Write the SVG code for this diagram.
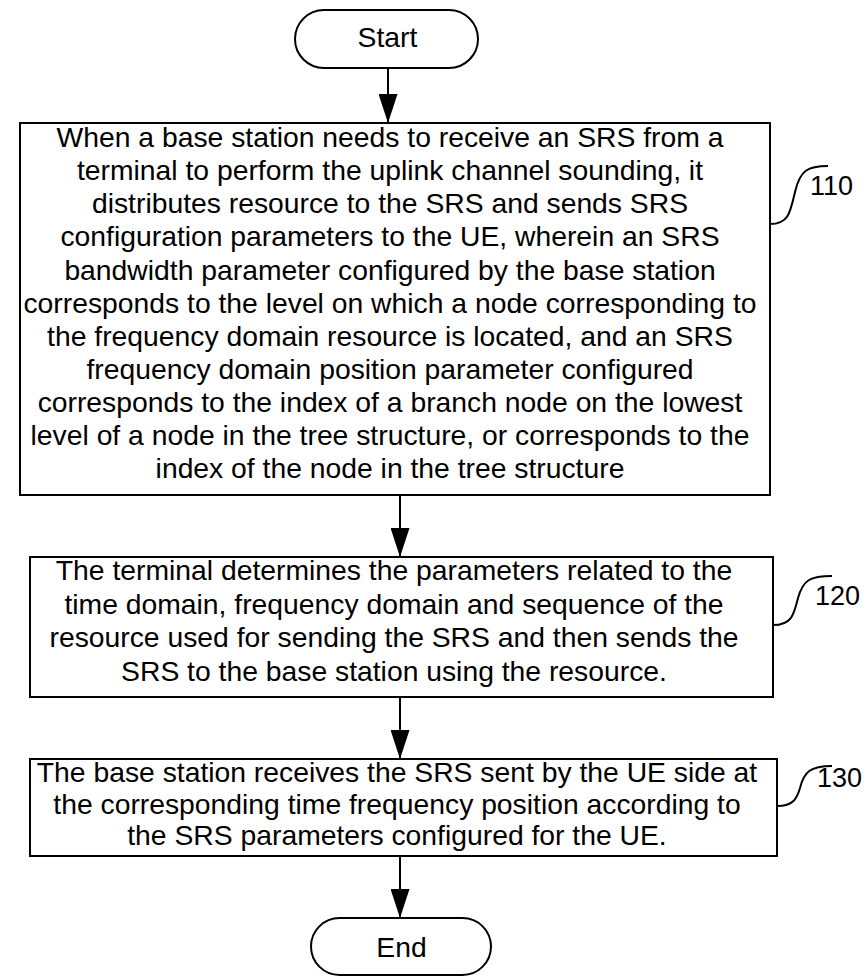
<svg xmlns="http://www.w3.org/2000/svg" width="868" height="977" viewBox="0 0 868 977">
<defs>
<marker id="ah" markerWidth="29" markerHeight="19" refX="29" refY="9.5" orient="auto" markerUnits="userSpaceOnUse" viewBox="0 0 29 19">
<path d="M0,0 L29,9.5 L0,19 Z" fill="#000"/>
</marker>
<style>
.box{fill:#fff;stroke:#000;stroke-width:2}
.t{font-family:"Liberation Sans",Arial,sans-serif;font-size:28.3px;fill:#000;text-anchor:middle}
.lbl{font-family:"Liberation Sans",Arial,sans-serif;font-size:27px;fill:#000}
.c{fill:none;stroke:#000;stroke-width:2}
</style>
</defs>
<rect width="868" height="977" fill="#fff"/>
<g id="start">
<rect class="box" x="295" y="10" width="183" height="58" rx="29"/>
<text class="t" x="387.5" y="47">Start</text>
</g>
<g id="n110">
<rect class="box" x="20" y="123" width="750" height="372"/>
<text class="t" x="390" y="147">When a base station needs to receive an SRS from a</text>
<text class="t" x="390" y="180">terminal to perform the uplink channel sounding, it</text>
<text class="t" x="390" y="213">distributes resource to the SRS and sends SRS</text>
<text class="t" x="390" y="246">configuration parameters to the UE, wherein an SRS</text>
<text class="t" x="390" y="280">bandwidth parameter configured by the base station</text>
<text class="t" x="390" y="313">corresponds to the level on which a node corresponding to</text>
<text class="t" x="390" y="346">the frequency domain resource is located, and an SRS</text>
<text class="t" x="390" y="379">frequency domain position parameter configured</text>
<text class="t" x="390" y="412">corresponds to the index of a branch node on the lowest</text>
<text class="t" x="390" y="445">level of a node in the tree structure, or corresponds to the</text>
<text class="t" x="390" y="478">index of the node in the tree structure</text>
</g>
<g id="n120">
<rect class="box" x="30" y="557" width="743" height="140"/>
<text class="t" x="394" y="580">The terminal determines the parameters related to the</text>
<text class="t" x="394" y="614">time domain, frequency domain and sequence of the</text>
<text class="t" x="394" y="647">resource used for sending the SRS and then sends the</text>
<text class="t" x="394" y="681">SRS to the base station using the resource.</text>
</g>
<g id="n130">
<rect class="box" x="30" y="759" width="747" height="97"/>
<text class="t" x="397" y="782">The base station receives the SRS sent by the UE side at</text>
<text class="t" x="397" y="814">the corresponding time frequency position according to</text>
<text class="t" x="397" y="845">the SRS parameters configured for the UE.</text>
</g>
<g id="end">
<rect class="box" x="311" y="918" width="180" height="57" rx="28.5"/>
<text class="t" x="401.5" y="957">End</text>
</g>
<g id="labels">
<text class="lbl" x="810" y="195">110</text>
<text class="lbl" x="815" y="605">120</text>
<text class="lbl" x="817" y="787">130</text>
</g>
<g id="connectors">
<line class="c" x1="388" y1="68" x2="388" y2="123" marker-end="url(#ah)"/>
<line class="c" x1="400" y1="495" x2="400" y2="557" marker-end="url(#ah)"/>
<line class="c" x1="400" y1="697" x2="400" y2="759" marker-end="url(#ah)"/>
<line class="c" x1="400" y1="856" x2="400" y2="918" marker-end="url(#ah)"/>
<path class="c" d="M770,224 C788,224 790,214 795,192 C800,170 808,166 828,166"/>
<path class="c" d="M773,625 C792,625 794,614 798,598 C803,580 810,576 832,576"/>
<path class="c" d="M777,806 C794,806 797,798 800,788 C804,772 810,766 832,766"/>
</g>
</svg>
